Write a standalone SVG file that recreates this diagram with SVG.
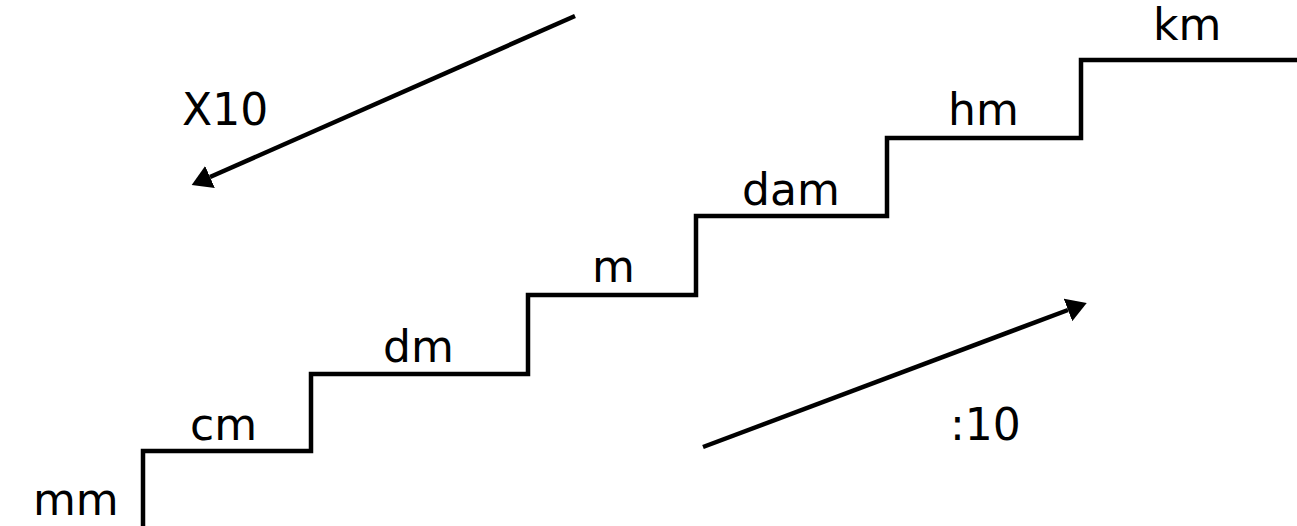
<svg xmlns="http://www.w3.org/2000/svg" width="1297" height="526" viewBox="0 0 1297 526">
  <style>
    .lbl { font-family: "DejaVu Sans", Verdana, sans-serif; font-size: 44px; fill: #000; }
    .stair { fill: none; stroke: #000; stroke-width: 4.5; stroke-linejoin: miter; }
    .arrow { fill: none; stroke: #000; stroke-width: 4.5; }
  </style>
  <defs>
    <marker id="ah" viewBox="0 0 20 24" refX="0" refY="12" markerWidth="20" markerHeight="24" markerUnits="userSpaceOnUse" orient="auto">
      <path d="M0,0 L20,12 L0,24 z" fill="#000"/>
    </marker>
  </defs>
  <rect width="1297" height="526" fill="#fff"/>
  <g id="staircase">
    <path class="stair" d="M143,528 V451 H311 V374 H528 V295 H696 V216 H887 V138 H1081 V60 H1299"/>
  </g>
  <g id="mm"><text class="lbl" x="33" y="515">mm</text></g>
  <g id="cm"><text class="lbl" x="190" y="440">cm</text></g>
  <g id="dm"><text class="lbl" x="383" y="362">dm</text></g>
  <g id="m"><text class="lbl" x="592" y="282">m</text></g>
  <g id="dam"><text class="lbl" x="742" y="205">dam</text></g>
  <g id="hm"><text class="lbl" x="948" y="125">hm</text></g>
  <g id="km"><text class="lbl" x="1153" y="40">km</text></g>
  <g id="connectors">
    <line class="arrow" x1="575" y1="16" x2="210" y2="177" marker-end="url(#ah)"/>
    <line class="arrow" x1="703" y1="447" x2="1068" y2="310" marker-end="url(#ah)"/>
  </g>
  <g id="x10"><text class="lbl" x="182" y="125">X10</text></g>
  <g id="div10"><text class="lbl" x="950" y="440">:10</text></g>
</svg>
